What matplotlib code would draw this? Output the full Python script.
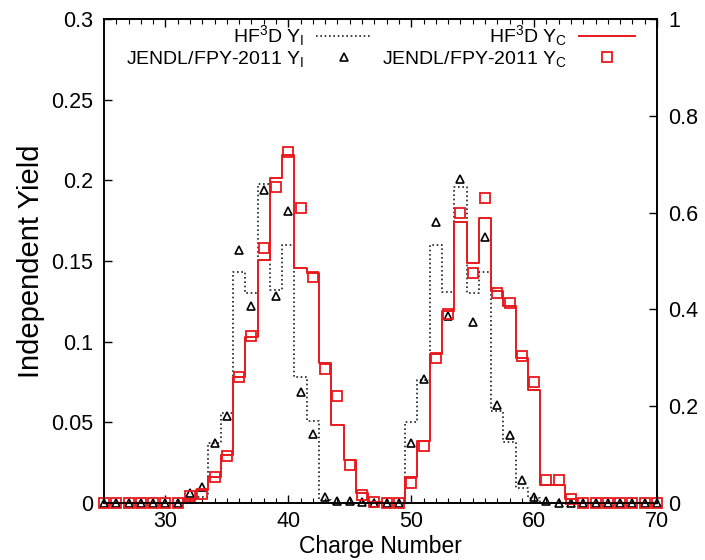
import numpy as np
import matplotlib
matplotlib.use("Agg")
import matplotlib.pyplot as plt
from matplotlib.ticker import MultipleLocator

plt.rcParams['font.family'] = ['Liberation Sans', 'DejaVu Sans']
plt.rcParams['mathtext.fontset'] = 'custom'
plt.rcParams['mathtext.rm'] = 'Liberation Sans'
plt.rcParams['mathtext.it'] = 'Liberation Sans:italic'
plt.rcParams['mathtext.default'] = 'rm'

# Charge number Z of the fission fragments
charge = np.arange(25, 71)

# HF3D independent yield per Z (left axis)
hf3d_yi = [0, 0, 0, 0, 0, 0, 0, 0.001, 0.004, 0.037, 0.056, 0.143, 0.130, 0.198,
           0.132, 0.160, 0.078, 0.051, 0.002, 0, 0, 0, 0, 0, 0,
           0.050, 0.076, 0.160, 0.131, 0.196, 0.130, 0.143, 0.057, 0.038, 0.009,
           0.003, 0, 0, 0, 0, 0, 0, 0, 0, 0, 0]

# JENDL/FPY-2011 independent yield per Z (left axis)
jendl_yi = [0, 0, 0, 0, 0, 0, 0, 0.006, 0.010, 0.037, 0.054, 0.157, 0.122, 0.194,
            0.128, 0.181, 0.069, 0.043, 0.004, 0.001, 0.001, 0.0005, 0, 0, 0,
            0.037, 0.077, 0.174, 0.116, 0.201, 0.112, 0.165, 0.061, 0.042, 0.014,
            0.004, 0.001, 0, 0, 0, 0, 0, 0, 0, 0, 0]

# HF3D cumulative yield per Z (right axis)
hf3d_yc = [0, 0, 0, 0, 0, 0, 0, 0.008, 0.027, 0.054, 0.099, 0.260, 0.343, 0.502,
           0.671, 0.719, 0.486, 0.475, 0.290, 0.161, 0.089, 0.020, 0.003, 0, 0,
           0.054, 0.128, 0.308, 0.397, 0.581, 0.496, 0.589, 0.438, 0.407, 0.300,
           0.233, 0.037, 0.037, 0.008, 0, 0, 0, 0, 0, 0, 0]

# JENDL/FPY-2011 cumulative yield per Z (right axis)
jendl_yc = [0, 0, 0, 0, 0, 0, 0, 0.015, 0.018, 0.054, 0.097, 0.260, 0.345, 0.527,
            0.653, 0.725, 0.610, 0.467, 0.277, 0.221, 0.079, 0.017, 0.002, 0, 0,
            0.041, 0.118, 0.300, 0.390, 0.600, 0.475, 0.630, 0.434, 0.413, 0.304,
            0.250, 0.047, 0.047, 0.008, 0, 0, 0, 0, 0, 0, 0]

left_ticks = [0, 0.05, 0.1, 0.15, 0.2, 0.25, 0.3]
left_labels = ['0', '0.05', '0.1', '0.15', '0.2', '0.25', '0.3']
right_ticks = [0, 0.2, 0.4, 0.6, 0.8, 1.0]
right_labels = ['0', '0.2', '0.4', '0.6', '0.8', '1']
x_ticks = [30, 40, 50, 60, 70]

red = '#e8181d'

fig = plt.figure(figsize=(7.05, 5.6), dpi=100)
ax = fig.add_axes([104 / 705, 1 - 503 / 560, 553 / 705, 484 / 560])
ax2 = ax.twinx()

l_hfi, = ax.step(charge, hf3d_yi, where='mid', color='#202020',
                 ls=(0, (1, 1.6)), lw=1.2)
m_jdi, = ax.plot(charge, jendl_yi, ls='none', marker='^', ms=5.5,
                 mfc='none', mec='black', mew=1.2, clip_on=False)
l_hfc, = ax2.step(charge, hf3d_yc, where='mid', color=red, lw=1.4)
m_jdc, = ax2.plot(charge, jendl_yc, ls='none', marker='s', ms=7,
                  mfc='none', mec=red, mew=1.3, clip_on=False)

ax.set_xlim(25, 70)
ax.set_ylim(0, 0.3)
ax2.set_ylim(0, 1)

ax.set_xticks(x_ticks)
ax.xaxis.set_minor_locator(MultipleLocator(1))
ax.set_yticks(left_ticks)
ax.set_yticklabels(left_labels)
ax2.set_yticks(right_ticks)
ax2.set_yticklabels(right_labels)

ax.tick_params(axis='x', which='major', direction='in', top=True, length=6,
               width=1, labelsize=15.5, pad=6)
ax.tick_params(axis='x', which='minor', direction='in', top=True, length=3.5,
               width=0.8)
ax.tick_params(axis='y', direction='in', right=False, length=6, width=1,
               labelsize=15.5, pad=8)
ax2.tick_params(axis='y', direction='in', length=6, width=1,
                labelsize=15.5, pad=8)

for a in (ax, ax2):
    for s in a.spines.values():
        s.set_linewidth(1.2)

ax.set_xlabel('Charge Number', fontsize=16.5, labelpad=2)
ax.set_ylabel('Independent Yield', fontsize=21, labelpad=4)

handles = [l_hfi, m_jdi, l_hfc, m_jdc]
labels = ['HF$^3$D Y$_I$', 'JENDL/FPY-2011 Y$_I$',
          'HF$^3$D Y$_C$', 'JENDL/FPY-2011 Y$_C$']
leg = ax2.legend(handles, labels, ncol=2, loc='upper center',
                 bbox_to_anchor=(0.5, 1.007), frameon=False, markerfirst=False,
                 fontsize=14, handlelength=2.9, handletextpad=0.6,
                 columnspacing=0.5, labelspacing=0.02, borderaxespad=0.0,
                 numpoints=1)
for col in leg._legend_handle_box.get_children():
    col.align = 'right'

fig.savefig('out.png', dpi=100)
